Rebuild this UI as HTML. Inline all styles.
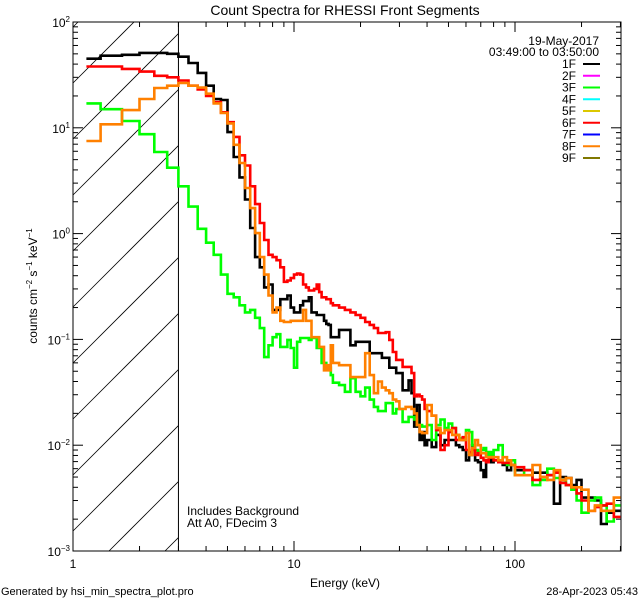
<!DOCTYPE html>
<html><head><meta charset="utf-8"><style>
html,body{margin:0;padding:0;background:#fff;overflow:hidden;width:640px;height:600px}
svg{display:block;font-family:"Liberation Sans","DejaVu Sans",sans-serif}
</style></head><body>
<svg id="chart" width="640" height="600" viewBox="0 0 640 600" xmlns="http://www.w3.org/2000/svg" overflow="hidden">
<rect x="0" y="0" width="640" height="600" fill="#fff"/>
<text x="345" y="15" font-size="14" text-anchor="middle">Count Spectra for RHESSI Front Segments</text>
<g id="hatch"></g>
<g id="series"></g>
<g id="axes"></g>
<text x="345" y="587" font-size="12" text-anchor="middle">Energy (keV)</text>
<text transform="translate(37,286) rotate(-90)" font-size="12" text-anchor="middle">counts cm<tspan font-size="8" dy="-5">−2</tspan><tspan dy="5"> s</tspan><tspan font-size="8" dy="-5">−1</tspan><tspan dy="5"> keV</tspan><tspan font-size="8" dy="-5">−1</tspan></text>
<text x="599" y="45" font-size="12" text-anchor="end">19-May-2017</text>
<text x="599" y="56" font-size="12" text-anchor="end">03:49:00 to 03:50:00</text>
<g id="legend"></g>
<text x="187" y="515" font-size="12">Includes Background</text>
<text x="187" y="527" font-size="12">Att A0, FDecim 3</text>
<text x="1" y="595" font-size="11">Generated by hsi_min_spectra_plot.pro</text>
<text x="638" y="595" font-size="11" text-anchor="end">28-Apr-2023 05:43</text>
</svg>
<script>
const edges = [1.15,1.333,1.667,2,2.333,2.667,3,3.333,3.667,4,4.333,4.667,5,5.333,5.667,6,6.333,6.667,7,7.333,7.667,8,8.333,8.667,9,9.333,9.667,10,10.333,10.667,11,11.333,11.667,12,12.333,12.667,13,13.333,13.667,14,14.333,14.667,
15,16,17,18,19,20,21,22,23,24,25,26,27,28,29,30,31,32,33,34,35,36,37,38,39,
40,42,44,46,48,50,52,54,56,58,60,62,64,66,68,70,72,74,76,78,80,84,88,92,96,
100,110,120,130,140,150,160,170,180,190,200,215,230,245,260,280,300];
const s1F = [45,48,49,51,51,50,47,41,33,25,18.7,18.3,9.1,5.3,3.4,2.1,1.13,0.60,0.48,0.31,0.33,0.19,0.19,0.24,0.24,0.26,0.20,0.18,0.18,0.21,0.23,0.23,0.25,0.18,0.18,0.17,0.17,0.17,0.15,0.14,0.137,0.105,
0.105,0.123,0.123,0.088,0.095,0.095,0.095,0.074,0.074,0.074,0.067,0.067,0.054,0.054,0.048,0.048,0.033,0.033,0.041,0.031,0.015,0.024,0.0112,0.0133,0.0100,
0.0112,0.0096,0.0125,0.0100,0.0112,0.0112,0.0112,0.0100,0.0096,0.0090,0.0072,0.0081,0.0100,0.0072,0.0069,0.0058,0.0050,0.0072,0.0072,0.0069,0.0072,0.0069,0.0065,0.0058,0.0065,
0.0058,0.0058,0.0055,0.0055,0.0052,0.0028,0.0050,0.0049,0.0042,0.0047,0.0032,0.0032,0.0030,0.0018,0.0023,0.0024];
const s3F = [17,15,11.6,8.7,5.9,4.2,2.8,1.8,1.11,0.82,0.63,0.41,0.27,0.25,0.21,0.18,0.19,0.16,0.128,0.068,0.088,0.105,0.112,0.085,0.085,0.099,0.083,0.054,0.095,0.103,0.103,0.103,0.099,0.103,0.103,0.083,0.083,0.060,0.060,0.054,0.054,0.046,
0.039,0.037,0.032,0.043,0.032,0.029,0.035,0.027,0.023,0.021,0.021,0.025,0.025,0.020,0.022,0.022,0.0166,0.0166,0.0185,0.0185,0.0175,0.0155,0.0155,0.0150,0.0150,
0.0155,0.0112,0.0155,0.0175,0.0145,0.016,0.0145,0.0125,0.0116,0.0112,0.0139,0.0133,0.0100,0.0090,0.0086,0.0090,0.0094,0.0081,0.0086,0.0081,0.0090,0.0100,0.0068,0.0065,0.0072,
0.0052,0.0058,0.0042,0.0047,0.0060,0.0049,0.0047,0.0042,0.0038,0.0030,0.0023,0.0030,0.0032,0.0027,0.0019,0.0027];
const s6F = [38,38,36,34,31,30,28,25,23,20,17.5,14,11.3,8.2,5.5,4.4,2.8,1.9,1.26,0.87,0.63,0.60,0.56,0.48,0.35,0.36,0.38,0.41,0.42,0.41,0.33,0.31,0.29,0.29,0.30,0.33,0.28,0.25,0.25,0.24,0.24,0.22,
0.21,0.20,0.19,0.18,0.17,0.16,0.146,0.137,0.128,0.115,0.115,0.117,0.099,0.076,0.064,0.064,0.055,0.055,0.055,0.048,0.029,0.030,0.029,0.027,0.022,
0.021,0.019,0.0139,0.0090,0.0100,0.0133,0.0145,0.0112,0.0112,0.0119,0.0090,0.0086,0.0090,0.0081,0.0084,0.0076,0.0072,0.0069,0.0076,0.0077,0.0072,0.0069,0.0068,0.0068,0.0065,
0.0062,0.0058,0.0047,0.0050,0.0052,0.0055,0.0044,0.0042,0.0040,0.0035,0.0030,0.0024,0.0026,0.0027,0.0028,0.0021];
const s8F = [7.5,10.8,14.7,18.7,23.8,25,26.5,25,24,21,17,13.8,11,6.9,4.65,2.7,1.74,1.01,0.60,0.41,0.26,0.18,0.20,0.15,0.146,0.146,0.15,0.15,0.15,0.15,0.19,0.15,0.15,0.105,0.105,0.105,0.085,0.085,0.051,0.057,0.051,0.088,
0.060,0.057,0.057,0.044,0.044,0.044,0.074,0.046,0.031,0.040,0.035,0.033,0.031,0.027,0.026,0.022,0.022,0.023,0.023,0.022,0.020,0.0155,0.0133,0.013,0.013,
0.024,0.019,0.0145,0.013,0.0139,0.0139,0.0125,0.0125,0.0112,0.0112,0.013,0.0081,0.0094,0.0112,0.0100,0.0084,0.0084,0.0077,0.0077,0.0077,0.0077,0.0072,0.0077,0.0072,0.0065,
0.0052,0.0052,0.0065,0.0050,0.0047,0.0058,0.0047,0.0049,0.0040,0.0040,0.0038,0.0024,0.0027,0.0024,0.0024,0.0032];
const legendLabels = ["1F","2F","3F","4F","5F","6F","7F","8F","9F"];
const legendColors = ["#000000","#ff00ff","#00ff00","#00ffff","#dcc800","#ff0000","#0000ff","#ff8000","#807800"];
const xTickValues = [1,10,100];
const xTickLabels = ["1","10","100"];
const yTickExps = [2,1,0,-1,-2,-3];

const X0=73, X1=621, Y0=22, Y1=551;
const xMinLog=0, xMaxLog=(X1-X0)/221;
const yMinLog=-3, yMaxLog=2;
const NS="http://www.w3.org/2000/svg";
function xs(e){return X0+(Math.log10(e)-xMinLog)/(xMaxLog-xMinLog)*(X1-X0);}
function ys(v){return Y1-(Math.log10(v)-yMinLog)/(yMaxLog-yMinLog)*(Y1-Y0);}
function mk(tag,attrs,parent){const el=document.createElementNS(NS,tag);for(const k in attrs)el.setAttribute(k,attrs[k]);if(parent)parent.appendChild(el);return el;}

// hatch (lines computed within the region, no overflow)
const hatch=document.getElementById('hatch');
const hx1=xs(3);
for(let k=-3;k<12;k++){
  const c=83+56*k;
  const xa=Math.max(X0, X0+c-Y1), xb=Math.min(hx1, X0+c-Y0);
  if(xb<=xa) continue;
  const ln=mk('line',{x1:xa,y1:c-(xa-X0),x2:xb,y2:c-(xb-X0),stroke:'#000','stroke-width':0.8},hatch);
  
  
}
const vl=mk('line',{x1:hx1,y1:Y0,x2:hx1,y2:Y1,stroke:'#000','stroke-width':1},hatch);



// series
const sg=document.getElementById('series');
function drawSeries(vals,color,name){
  let d='';
  for(let i=0;i<vals.length;i++){
    const xa=xs(edges[i]).toFixed(1), xb=Math.min(X1,xs(edges[i+1])).toFixed(1), y=ys(vals[i]).toFixed(1);
    d+=(i===0?'M':'L')+xa+','+y+'L'+xb+','+y;
  }
  const p=mk('path',{d:d,fill:'none',stroke:color,'stroke-width':2.6,'stroke-linejoin':'miter'},sg);
  
  
}
drawSeries(s1F,'#000000','series-1f');
drawSeries(s3F,'#00ff00','series-3f');
drawSeries(s6F,'#ff0000','series-6f');
drawSeries(s8F,'#ff8000','series-8f');

// axes
const ax=document.getElementById('axes');
const frame=mk('rect',{x:X0,y:Y0,width:X1-X0,height:Y1-Y0,fill:'none',stroke:'#000','stroke-width':1},ax);


for(let dec=0;dec<3;dec++){
  for(let m=1;m<10;m++){
    const e=Math.pow(10,dec)*m; if(e>300) break;
    const x=xs(e); const len=(m===1)?10:5;
    mk('line',{x1:x,y1:Y1,x2:x,y2:Y1-len,stroke:'#000','stroke-width':1},ax);
    mk('line',{x1:x,y1:Y0,x2:x,y2:Y0+len,stroke:'#000','stroke-width':1},ax);
  }
}
xTickValues.forEach((v,i)=>{
  const t=mk('text',{x:xs(v),y:Y1+17,'font-size':12,'text-anchor':'middle'},ax);
  t.textContent=xTickLabels[i];
  
  
});
for(let ex=-3;ex<2;ex++){
  for(let m=1;m<10;m++){
    const v=Math.pow(10,ex)*m; const y=ys(v); const len=(m===1)?10:5;
    mk('line',{x1:X0,y1:y,x2:X0+len,y2:y,stroke:'#000','stroke-width':1},ax);
    mk('line',{x1:X1,y1:y,x2:X1-len,y2:y,stroke:'#000','stroke-width':1},ax);
  }
}
yTickExps.forEach(ex=>{
  const y=ys(Math.pow(10,ex));
  const t=mk('text',{x:X0-3,y:y+5,'font-size':12,'text-anchor':'end'},ax);
  
  
  const a=mk('tspan',{},t); a.textContent='10';
  const b=mk('tspan',{'font-size':8,dy:-5},t); b.textContent=(ex<0?'−':'')+Math.abs(ex);
});

// legend
const lg=document.getElementById('legend');
legendLabels.forEach((lab,i)=>{
  const y=64+i*11.75;
  const t=mk('text',{x:576,y:y+4,'font-size':12,'text-anchor':'end'},lg);
  t.textContent=lab;
  
  
  const l=mk('line',{x1:583,y1:y,x2:600,y2:y,stroke:legendColors[i],'stroke-width':2},lg);
  
  
});
</script>
</body></html>
